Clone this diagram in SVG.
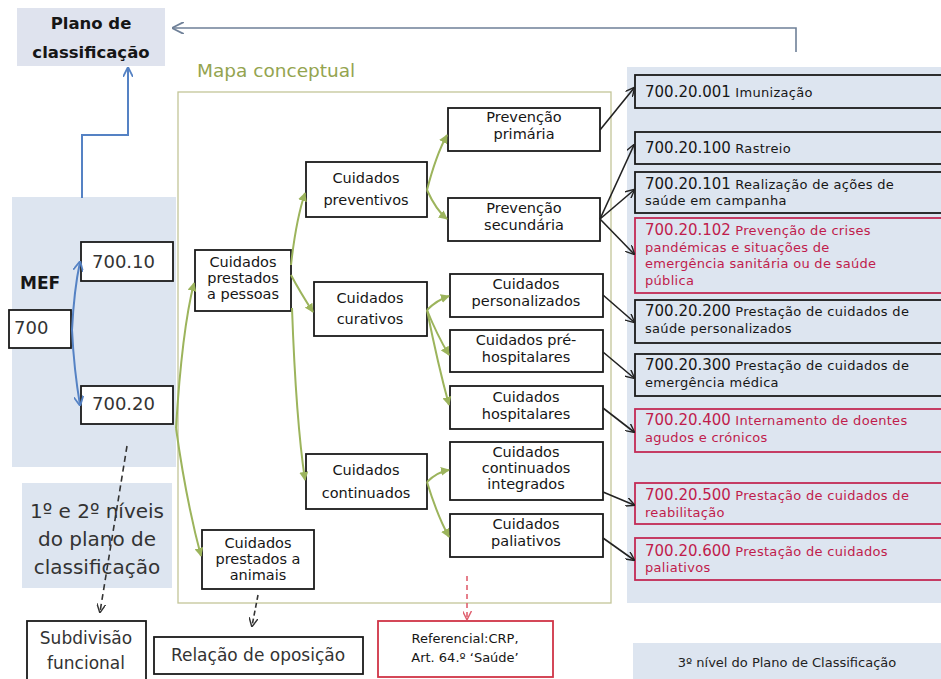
<svg xmlns="http://www.w3.org/2000/svg" width="941" height="679" viewBox="0 0 941 679">
<defs>
<style>
.bg{fill:#dde5f0}
.box{fill:#fff;stroke:#1a1a1a;stroke-width:1.8}
.rbox{fill:#dde5f0;stroke:#1a1a1a;stroke-width:1.8}
.redbox{fill:#dde5f0;stroke:#c32a55;stroke-width:1.8}
.t{font-family:"DejaVu Sans","Liberation Sans",sans-serif;fill:#161616}
.c{text-anchor:middle;font-size:14.5px}
.num{font-size:15px}
.sm{font-size:13px;letter-spacing:0.3px}
.red{fill:#c01c4c}
.g{fill:none;stroke:#9cb45c;stroke-width:2}
.k{fill:none;stroke:#222;stroke-width:1.6}
.b{fill:none;stroke:#5582c4;stroke-width:2}
</style>
<marker id="ga" viewBox="0 0 10 10" refX="9" refY="5" markerWidth="9" markerHeight="9" markerUnits="userSpaceOnUse" orient="auto"><path d="M0,0 L10,5 L0,10 z" fill="#9cb45c"/></marker>
<marker id="ka" viewBox="0 0 10 10" refX="9" refY="5" markerWidth="9" markerHeight="9" markerUnits="userSpaceOnUse" orient="auto"><path d="M0,0 L10,5 L0,10" fill="none" stroke="#222" stroke-width="1.6"/></marker>
<marker id="ba" viewBox="0 0 10 10" refX="9" refY="5" markerWidth="10" markerHeight="10" markerUnits="userSpaceOnUse" orient="auto"><path d="M0,0 L10,5 L0,10" fill="none" stroke="#5582c4" stroke-width="1.8"/></marker>
<marker id="gra" viewBox="0 0 10 10" refX="9" refY="5" markerWidth="12" markerHeight="12" markerUnits="userSpaceOnUse" orient="auto"><path d="M0,0 L10,5 L0,10" fill="none" stroke="#6f8098" stroke-width="1.5"/></marker>
<marker id="ra" viewBox="0 0 10 10" refX="9" refY="5" markerWidth="9" markerHeight="9" markerUnits="userSpaceOnUse" orient="auto"><path d="M0,0 L10,5 L0,10" fill="none" stroke="#e0606f" stroke-width="1.6"/></marker>
<marker id="da" viewBox="0 0 10 10" refX="9" refY="5" markerWidth="9" markerHeight="9" markerUnits="userSpaceOnUse" orient="auto"><path d="M0,0 L10,5 L0,10" fill="none" stroke="#333" stroke-width="1.6"/></marker>
</defs>
<rect width="941" height="679" fill="#fff"/>

<!-- background panels -->
<rect class="bg" x="12" y="197" width="164" height="270"/>
<rect class="bg" x="22" y="483" width="150" height="105"/>
<rect class="bg" x="627" y="67" width="314" height="536"/>
<rect class="bg" x="633" y="643" width="308" height="36"/>
<rect x="178" y="92" width="433" height="511" fill="#fff" stroke="#c3c598" stroke-width="1.3"/>

<g id="plano">
<rect x="17" y="8" width="148" height="58" fill="#dfe3ee"/>
<text class="t" x="91" y="29" text-anchor="middle" font-size="16.5" font-weight="bold" fill="#1f2d2d">Plano de</text>
<text class="t" x="91" y="58" text-anchor="middle" font-size="16.5" font-weight="bold" fill="#1f2d2d">classificação</text>
</g>
<text class="t" x="197" y="77" font-size="18.5" style="fill:#94a44f">Mapa conceptual</text>

<g id="mef"><text class="t" x="20" y="289" font-size="17" font-weight="bold" fill="#222">MEF</text></g>
<g id="n700"><rect class="box" x="9" y="310" width="62" height="38"/><text class="t" x="14" y="334" font-size="18" style="fill:#333">700</text></g>
<g id="n70010"><rect class="box" x="81" y="242" width="92" height="39"/><text class="t" x="92" y="268" font-size="18" style="fill:#333">700.10</text></g>
<g id="n70020"><rect class="box" x="81" y="386" width="92" height="38"/><text class="t" x="92" y="410" font-size="18" style="fill:#333">700.20</text></g>
<g id="niveis">
<text class="t" x="97" y="518" text-anchor="middle" font-size="20" style="fill:#333">1º e 2º níveis</text>
<text class="t" x="97" y="546" text-anchor="middle" font-size="20" style="fill:#333">do plano de</text>
<text class="t" x="97" y="574" text-anchor="middle" font-size="20" style="fill:#333">classificação</text>
</g>

<g id="pessoas"><rect class="box" x="195" y="250" width="96" height="61"/>
<text class="t c" x="243" y="267">Cuidados</text><text class="t c" x="243" y="283">prestados</text><text class="t c" x="243" y="299">a pessoas</text></g>
<g id="animais"><rect class="box" x="202" y="530" width="112" height="59"/>
<text class="t c" x="258" y="548">Cuidados</text><text class="t c" x="258" y="564">prestados a</text><text class="t c" x="258" y="580">animais</text></g>
<g id="preventivos"><rect class="box" x="306" y="162" width="121" height="55"/>
<text class="t c" x="366" y="183">Cuidados</text><text class="t c" x="366" y="205">preventivos</text></g>
<g id="curativos"><rect class="box" x="314" y="282" width="113" height="54"/>
<text class="t c" x="370" y="303">Cuidados</text><text class="t c" x="370" y="324">curativos</text></g>
<g id="continuados"><rect class="box" x="306" y="454" width="121" height="55"/>
<text class="t c" x="366" y="475">Cuidados</text><text class="t c" x="366" y="498">continuados</text></g>

<g id="primaria"><rect class="box" x="448" y="108" width="152" height="43"/>
<text class="t c" x="524" y="122">Prevenção</text><text class="t c" x="524" y="139">primária</text></g>
<g id="secundaria"><rect class="box" x="448" y="198" width="152" height="43"/>
<text class="t c" x="524" y="213">Prevenção</text><text class="t c" x="524" y="230">secundária</text></g>
<g id="personalizados"><rect class="box" x="450" y="274" width="153" height="43"/>
<text class="t c" x="526" y="289">Cuidados</text><text class="t c" x="526" y="306">personalizados</text></g>
<g id="prehosp"><rect class="box" x="450" y="330" width="153" height="42"/>
<text class="t c" x="526" y="345">Cuidados pré-</text><text class="t c" x="526" y="362">hospitalares</text></g>
<g id="hosp"><rect class="box" x="450" y="386" width="153" height="43"/>
<text class="t c" x="526" y="402">Cuidados</text><text class="t c" x="526" y="419">hospitalares</text></g>
<g id="integrados"><rect class="box" x="450" y="442" width="153" height="58"/>
<text class="t c" x="526" y="457">Cuidados</text><text class="t c" x="526" y="473">continuados</text><text class="t c" x="526" y="489">integrados</text></g>
<g id="paliativos"><rect class="box" x="450" y="514" width="153" height="43"/>
<text class="t c" x="526" y="529">Cuidados</text><text class="t c" x="526" y="546">paliativos</text></g>

<g id="r001"><rect class="rbox" x="635" y="75" width="310" height="33"/>
<text class="t" x="645" y="97"><tspan class="num">700.20.001</tspan><tspan class="sm"> Imunização</tspan></text></g>
<g id="r100"><rect class="rbox" x="635" y="132" width="310" height="32"/>
<text class="t" x="645" y="153"><tspan class="num">700.20.100</tspan><tspan class="sm"> Rastreio</tspan></text></g>
<g id="r101"><rect class="rbox" x="635" y="172" width="310" height="41"/>
<text class="t" x="645" y="189"><tspan class="num">700.20.101</tspan><tspan class="sm"> Realização de ações de</tspan></text>
<text class="t sm" x="645" y="205">saúde em campanha</text></g>
<g id="r102"><rect class="redbox" x="635" y="218" width="310" height="75"/>
<text class="t red" x="645" y="235"><tspan class="num">700.20.102</tspan><tspan class="sm"> Prevenção de crises</tspan></text>
<text class="t sm red" x="645" y="252">pandémicas e situações de</text>
<text class="t sm red" x="645" y="268">emergência sanitária ou de saúde</text>
<text class="t sm red" x="645" y="285">pública</text></g>
<g id="r200"><rect class="rbox" x="635" y="300" width="310" height="43"/>
<text class="t" x="645" y="316"><tspan class="num">700.20.200</tspan><tspan class="sm"> Prestação de cuidados de</tspan></text>
<text class="t sm" x="645" y="333">saúde personalizados</text></g>
<g id="r300"><rect class="rbox" x="635" y="354" width="310" height="42"/>
<text class="t" x="645" y="370"><tspan class="num">700.20.300</tspan><tspan class="sm"> Prestação de cuidados de</tspan></text>
<text class="t sm" x="645" y="387">emergência médica</text></g>
<g id="r400"><rect class="redbox" x="635" y="409" width="310" height="43"/>
<text class="t red" x="645" y="425"><tspan class="num">700.20.400</tspan><tspan class="sm"> Internamento de doentes</tspan></text>
<text class="t sm red" x="645" y="442">agudos e crónicos</text></g>
<g id="r500"><rect class="redbox" x="635" y="483" width="310" height="41"/>
<text class="t red" x="645" y="500"><tspan class="num">700.20.500</tspan><tspan class="sm"> Prestação de cuidados de</tspan></text>
<text class="t sm red" x="645" y="517">reabilitação</text></g>
<g id="r600"><rect class="redbox" x="635" y="538" width="310" height="42"/>
<text class="t red" x="645" y="556"><tspan class="num">700.20.600</tspan><tspan class="sm"> Prestação de cuidados</tspan></text>
<text class="t sm red" x="645" y="572">paliativos</text></g>

<g id="nivel3"><text class="t" x="787" y="667" text-anchor="middle" font-size="13" style="fill:#222">3º nível do Plano de Classificação</text></g>

<g id="subdivisao"><rect class="box" x="27" y="621" width="119" height="62"/>
<text class="t" x="86" y="644" text-anchor="middle" font-size="17" style="fill:#333">Subdivisão</text>
<text class="t" x="86" y="669" text-anchor="middle" font-size="17" style="fill:#333">funcional</text></g>
<g id="oposicao"><rect class="box" x="154" y="637" width="209" height="37"/>
<text class="t" x="258" y="661" text-anchor="middle" font-size="17" style="fill:#333">Relação de oposição</text></g>
<g id="referencial"><rect x="378" y="621" width="175" height="56" fill="#fff" stroke="#d03446" stroke-width="1.8"/>
<text class="t" x="465" y="643" text-anchor="middle" font-size="13">Referencial:CRP,</text>
<text class="t" x="465" y="662" text-anchor="middle" font-size="13">Art. 64.º ‘Saúde’</text></g>

<g id="connectors">
<path d="M796,52 V28 H173" fill="none" stroke="#6f8098" stroke-width="1.6" marker-end="url(#gra)"/>
<path class="b" d="M82,198 V135 H128 V68" marker-end="url(#ba)"/>
<path class="b" d="M72,330 Q74,290 80,262" marker-end="url(#ba)"/>
<path class="b" d="M72,330 Q74,370 80,405" marker-end="url(#ba)"/>

<path class="g" d="M176,428 Q182,330 194,283" marker-end="url(#ga)"/>
<path class="g" d="M176,428 Q186,500 201,556" marker-end="url(#ga)"/>
<path class="g" d="M291,265 Q296,220 305,193" marker-end="url(#ga)"/>
<path class="g" d="M291,275 Q300,292 313,312" marker-end="url(#ga)"/>
<path class="g" d="M292,308 Q296,420 305,480" marker-end="url(#ga)"/>
<path class="g" d="M427,190 Q436,155 447,135" marker-end="url(#ga)"/>
<path class="g" d="M427,190 Q436,210 447,219" marker-end="url(#ga)"/>
<path class="g" d="M427,310 Q437,300 449,296" marker-end="url(#ga)"/>
<path class="g" d="M427,310 Q437,335 449,355" marker-end="url(#ga)"/>
<path class="g" d="M427,310 Q438,365 449,405" marker-end="url(#ga)"/>
<path class="g" d="M427,482 Q437,472 449,470" marker-end="url(#ga)"/>
<path class="g" d="M427,482 Q437,515 449,537" marker-end="url(#ga)"/>

<path class="k" d="M600,130 L634,88" marker-end="url(#ka)"/>
<path class="k" d="M600,219 L634,145" marker-end="url(#ka)"/>
<path class="k" d="M600,219 L634,190" marker-end="url(#ka)"/>
<path class="k" d="M600,219 L634,254" marker-end="url(#ka)"/>
<path class="k" d="M603,295 L634,322" marker-end="url(#ka)"/>
<path class="k" d="M603,352 L634,378" marker-end="url(#ka)"/>
<path class="k" d="M603,408 L634,432" marker-end="url(#ka)"/>
<path class="k" d="M603,492 L634,505" marker-end="url(#ka)"/>
<path class="k" d="M603,538 L634,560" marker-end="url(#ka)"/>

<path d="M127,446 L100,612" fill="none" stroke="#333" stroke-width="1.6" stroke-dasharray="6,4" marker-end="url(#da)"/>
<path d="M258,595 L252,626" fill="none" stroke="#333" stroke-width="1.6" stroke-dasharray="5,3" marker-end="url(#da)"/>
<path d="M467,576 V619" fill="none" stroke="#e0606f" stroke-width="1.6" stroke-dasharray="5,4" marker-end="url(#ra)"/>
</g>
</svg>
